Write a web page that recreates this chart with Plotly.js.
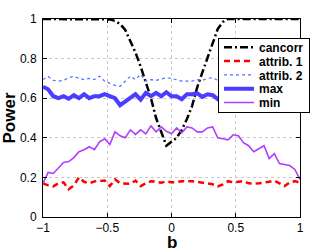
<!DOCTYPE html>
<html>
<head>
<meta charset="utf-8">
<script src="https://cdn.plot.ly/plotly-3.0.1.min.js"></script>
<style>html,body{margin:0;padding:0;background:#fff;}#chart{width:332px;height:249px;}</style>
</head>
<body>
<div id="chart"></div>
<script>
// b grid: -1 to 1 step 0.04 (51 points)
var b = [-1,-0.96,-0.92,-0.88,-0.84,-0.8,-0.76,-0.72,-0.68,-0.64,-0.6,-0.56,-0.52,-0.48,-0.44,-0.4,-0.36,-0.32,-0.28,-0.24,-0.2,-0.16,-0.12,-0.08,-0.04,0,0.04,0.08,0.12,0.16,0.2,0.24,0.28,0.32,0.36,0.4,0.44,0.48,0.52,0.56,0.6,0.64,0.68,0.72,0.76,0.8,0.84,0.88,0.92,0.96,1];

var cancorr = [1,1,1,1,1,1,1,1,1,1,1,1,1,0.998,0.99,0.975,0.945,0.89,0.83,0.76,0.68,0.6,0.5,0.425,0.36,0.38,0.4,0.44,0.495,0.56,0.655,0.73,0.8,0.875,0.95,0.985,1,1,1,1,1,1,1,1,1,1,1,1,1,1,1];

var attrib1 = [0.17,0.16,0.155,0.17,0.175,0.14,0.16,0.2,0.178,0.17,0.18,0.182,0.184,0.156,0.19,0.17,0.168,0.168,0.184,0.156,0.17,0.181,0.178,0.173,0.18,0.175,0.176,0.181,0.18,0.181,0.178,0.173,0.168,0.165,0.155,0.165,0.181,0.175,0.178,0.181,0.17,0.168,0.17,0.173,0.178,0.184,0.17,0.156,0.175,0.181,0.173];

var attrib2 = [0.694,0.71,0.69,0.686,0.69,0.703,0.711,0.7,0.694,0.7,0.694,0.711,0.686,0.674,0.665,0.66,0.686,0.711,0.694,0.72,0.686,0.694,0.69,0.697,0.703,0.7,0.694,0.686,0.686,0.686,0.694,0.69,0.7,0.703,0.69,0.695,0.688,0.7,0.692,0.685,0.697,0.69,0.702,0.688,0.694,0.7,0.686,0.695,0.69,0.7,0.692];

var maxv = [0.657,0.645,0.61,0.6,0.61,0.597,0.615,0.6,0.62,0.6,0.61,0.61,0.62,0.61,0.6,0.565,0.585,0.6,0.62,0.593,0.627,0.61,0.627,0.61,0.63,0.61,0.61,0.595,0.62,0.62,0.625,0.607,0.62,0.615,0.595,0.61,0.62,0.605,0.615,0.6,0.62,0.61,0.615,0.6,0.62,0.61,0.605,0.62,0.615,0.63,0.65];

var minv = [0.17,0.225,0.22,0.245,0.275,0.28,0.3,0.33,0.34,0.355,0.34,0.38,0.395,0.366,0.43,0.41,0.4,0.44,0.417,0.44,0.42,0.46,0.43,0.455,0.433,0.42,0.45,0.425,0.455,0.45,0.43,0.43,0.45,0.455,0.4,0.395,0.39,0.415,0.41,0.375,0.36,0.33,0.345,0.36,0.295,0.32,0.27,0.265,0.26,0.24,0.19];

var names = ['cancorr','attrib. 1','attrib. 2','max','min'];
var xTitle = 'b';
var yTitle = 'Power';

var traces = [
  {x:b, y:cancorr, name:names[0], mode:'lines', line:{color:'#000000', width:2.5, dash:'8px,3px,2px,3px'}},
  {x:b, y:attrib1, name:names[1], mode:'lines', line:{color:'#ff0000', width:2.5, dash:'6px,4px'}},
  {x:b, y:attrib2, name:names[2], mode:'lines', line:{color:'#5070ff', width:1.2, dash:'dot'}},
  {x:b, y:maxv, name:names[3], mode:'lines', line:{color:'#4b3dff', width:4}},
  {x:b, y:minv, name:names[4], mode:'lines', line:{color:'#b23cff', width:1.6}}
];

var fnt = 'Liberation Sans, Arial, Helvetica, sans-serif';
var layout = {
  width:332, height:249,
  margin:{l:43, r:32, t:19, b:32},
  paper_bgcolor:'#fff', plot_bgcolor:'#fff',
  font:{family:fnt, size:12, color:'#000'},
  showlegend:true,
  legend:{x:0.681, y:0.905, xanchor:'left', yanchor:'top', bgcolor:'#fff', bordercolor:'#000', borderwidth:1,
          font:{family:fnt, size:12, color:'#000', weight:'bold'}, itemwidth:30, tracegroupgap:0},
  xaxis:{range:[-1,1], dtick:0.5, tick0:-1, showline:true, linecolor:'#000', linewidth:1, mirror:'ticks',
         ticks:'inside', ticklen:4, tickcolor:'#000', showgrid:true, gridcolor:'#c8c8c8', griddash:'dot', gridwidth:1,
         zeroline:false, tickfont:{size:12}, automargin:false, ticklabelstandoff:0},
  yaxis:{range:[0,1], dtick:0.2, tick0:0, showline:true, linecolor:'#000', linewidth:1, mirror:'ticks',
         ticks:'inside', ticklen:4, tickcolor:'#000', showgrid:true, gridcolor:'#c8c8c8', griddash:'dot', gridwidth:1,
         zeroline:false, tickfont:{size:12}, automargin:false, ticklabelstandoff:3,
         title:{text:yTitle, font:{size:17, weight:'bold'}, standoff:4}},
  annotations:[
    {text:xTitle, xref:'paper', yref:'paper', x:0.5, y:-0.083, xanchor:'center', yanchor:'top', showarrow:false,
     height:15, valign:'middle', font:{family:fnt, size:17, color:'#000', weight:'bold'}}
  ]
};

Plotly.newPlot('chart', traces, layout, {displayModeBar:false, staticPlot:true}).then(function(gd){
  // tighten legend row spacing to match the compact reference legend
  var leg = gd.querySelector('.legend');
  if (!leg) return;
  var items = leg.querySelectorAll('.traces');
  var rowH = 13.8, first = 9.5;
  for (var i = 0; i < items.length; i++) {
    var t = items[i].getAttribute('transform') || '';
    var m = /translate\(\s*([-\d.eE]+)[\s,]+([-\d.eE]+)\s*\)/.exec(t);
    var x = m ? m[1] : 1;
    items[i].setAttribute('transform', 'translate(' + x + ',' + (first + i * rowH) + ')');
  }
  var bg = leg.querySelector('rect.bg');
  if (bg) bg.setAttribute('height', first + (items.length - 1) * rowH + 9.5);
});
</script>
</body>
</html>
